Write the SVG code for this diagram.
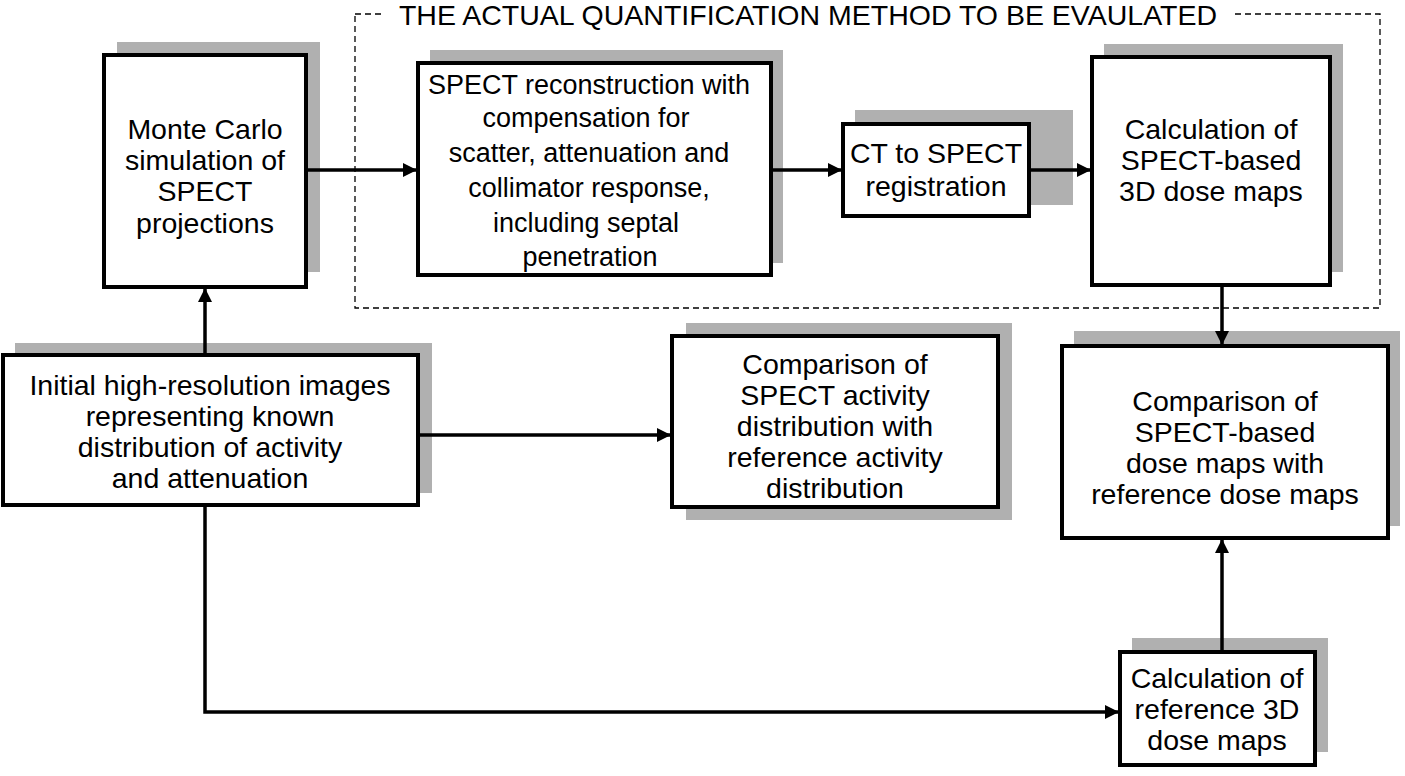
<svg xmlns="http://www.w3.org/2000/svg" width="1405" height="776" viewBox="0 0 1405 776">
<style>
.sh{fill:#b0b0b0}
.bx{fill:#fff;stroke:#000;stroke-width:4}
text{font-family:"Liberation Sans",Arial,sans-serif;font-size:28.5px;text-anchor:middle;fill:#000}
.r{font-size:27px}
.c{stroke:#000;stroke-width:3.5;fill:none;marker-end:url(#a)}
</style>
<defs><marker id="a" markerWidth="14" markerHeight="14" refX="13" refY="7" orient="auto" markerUnits="userSpaceOnUse"><path d="M0,0 L14,7 L0,14 z" fill="#000"/></marker></defs>
<rect x="355" y="14" width="1025" height="294" fill="none" stroke="#000" stroke-width="1.3" stroke-dasharray="6,4"/>
<rect x="385" y="0" width="848" height="30" fill="#fff"/>
<text x="808" y="25">THE ACTUAL QUANTIFICATION METHOD TO BE EVAULATED</text>
<g id="mc"><rect class="sh" x="117" y="42" width="203" height="230"/><rect class="bx" x="104" y="55" width="202" height="232"/>
<text x="205" y="139">Monte Carlo</text><text x="205" y="170">simulation of</text><text x="205" y="201">SPECT</text><text x="205" y="233">projections</text></g>
<g id="recon"><rect class="sh" x="430" y="50" width="353" height="213"/><rect class="bx" x="418" y="63" width="353" height="212"/>
<text class="r" x="589" y="94">SPECT reconstruction with</text><text class="r" x="586" y="127">compensation for</text><text class="r" x="589" y="162">scatter, attenuation and</text><text class="r" x="589" y="197">collimator response,</text><text class="r" x="586" y="232">including septal</text><text class="r" x="590" y="266">penetration</text></g>
<g id="ct"><rect class="sh" x="855" y="110" width="218" height="95"/><rect class="bx" x="843" y="124" width="186" height="92"/>
<text x="936" y="163">CT to SPECT</text><text x="936" y="196">registration</text></g>
<g id="calc"><rect class="sh" x="1104" y="44" width="239" height="228"/><rect class="bx" x="1092" y="57" width="238" height="228"/>
<text x="1211" y="139">Calculation of</text><text x="1211" y="170">SPECT-based</text><text x="1211" y="201">3D dose maps</text></g>
<g id="init"><rect class="sh" x="15" y="343" width="417" height="150"/><rect class="bx" x="3" y="355" width="415" height="150"/>
<text x="210" y="395">Initial high-resolution images</text><text x="210" y="426">representing known</text><text x="210" y="457">distribution of activity</text><text x="210" y="488">and attenuation</text></g>
<g id="cmpact"><rect class="sh" x="686" y="323" width="326" height="197"/><rect class="bx" x="672" y="336" width="326" height="171"/>
<text x="835" y="374">Comparison of</text><text x="835" y="405">SPECT activity</text><text x="835" y="436">distribution with</text><text x="835" y="467">reference activity</text><text x="835" y="498">distribution</text></g>
<g id="cmpdose"><rect class="sh" x="1074" y="331" width="326" height="195"/><rect class="bx" x="1062" y="346" width="326" height="192"/>
<text x="1225" y="411">Comparison of</text><text x="1225" y="442">SPECT-based</text><text x="1225" y="473">dose maps with</text><text x="1225" y="504">reference dose maps</text></g>
<g id="calcref"><rect class="sh" x="1132" y="638" width="196" height="114"/><rect class="bx" x="1120" y="652" width="195" height="113"/>
<text x="1217" y="688">Calculation of</text><text x="1217" y="719">reference 3D</text><text x="1217" y="750">dose maps</text></g>
<g id="connectors">
<path class="c" d="M306,170 H416"/>
<path class="c" d="M771,170 H841"/>
<path class="c" d="M1029,170 H1090"/>
<path class="c" d="M205,355 V289"/>
<path class="c" d="M1222,285 V344"/>
<path class="c" d="M418,435 H670"/>
<path class="c" d="M205,505 V712 H1118"/>
<path class="c" d="M1222,652 V540"/>
</g>
</svg>
